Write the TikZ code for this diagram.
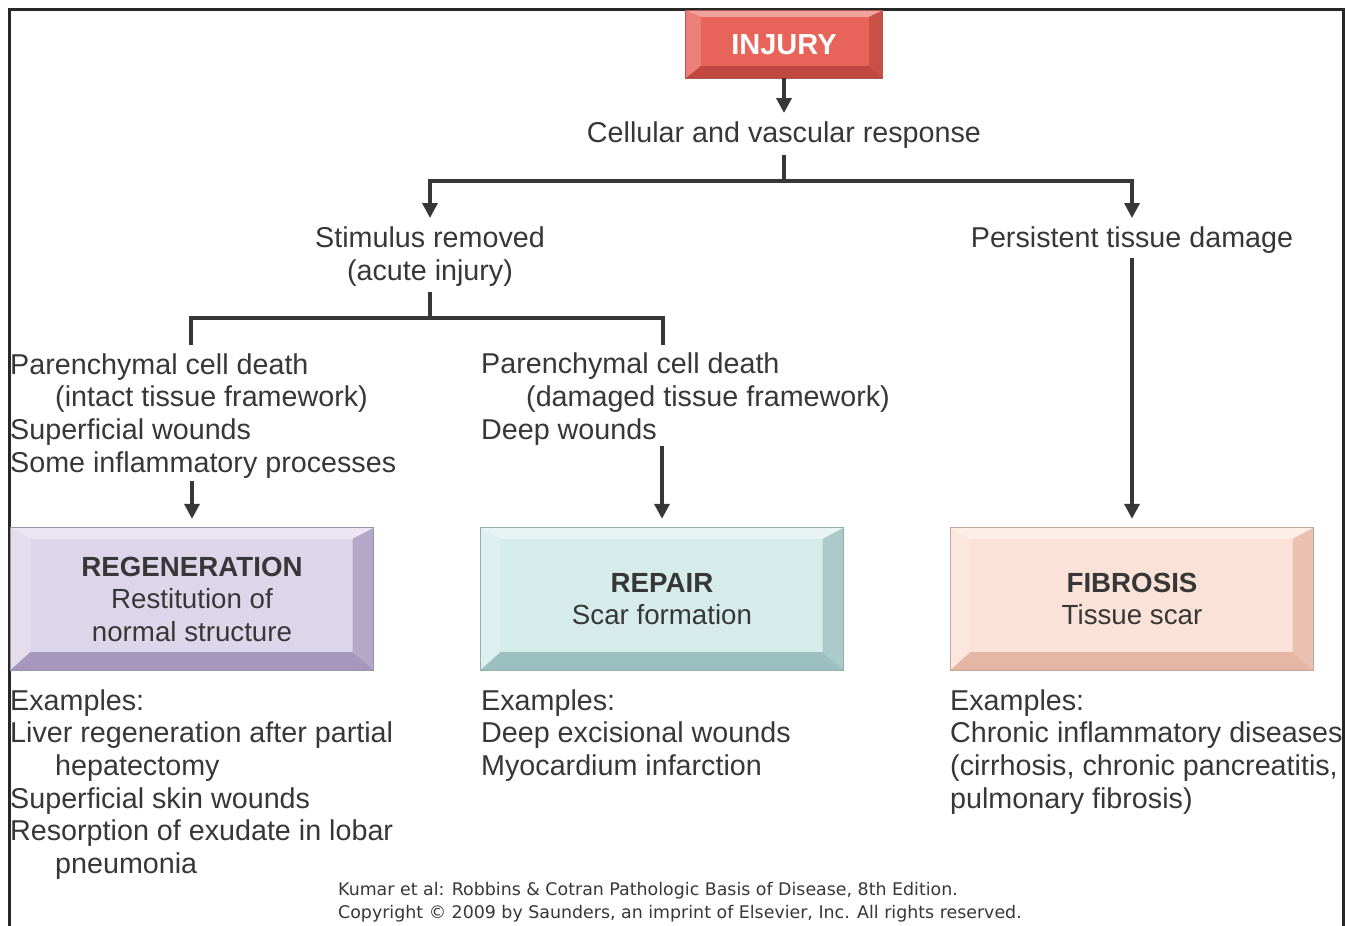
\documentclass[tikz,border=0pt]{standalone}
\usepackage{fontspec}
\setmainfont{Liberation Sans}
\newfontfamily\creditfont{DejaVu Sans}
\usetikzlibrary{arrows.meta,calc}

\definecolor{inkgray}{RGB}{55,55,55}
\definecolor{regcol}{RGB}{221,213,233}
\definecolor{regdark}{RGB}{166,152,189}
\definecolor{repcol}{RGB}{214,236,235}
\definecolor{repdark}{RGB}{155,192,191}
\definecolor{fibcol}{RGB}{251,226,216}
\definecolor{fibdark}{RGB}{230,182,165}
\definecolor{injcol}{RGB}{232,100,90}
\definecolor{injdark}{RGB}{192,72,64}

% bevel on a named box: node, colour, dark colour, left, top, right, bottom
\newcommand{\bevelbox}[7]{%
  \fill[#2!60!white] (#1.north west) -- (#1.north east) -- ($(#1.north east)+(-#6,#5)$) -- ($(#1.north west)+(#4,#5)$) -- cycle;
  \fill[#2!82!white] (#1.north west) -- ($(#1.north west)+(#4,#5)$) -- ($(#1.south west)+(#4,-#7)$) -- (#1.south west) -- cycle;
  \fill[#3!75!#2] (#1.north east) -- (#1.south east) -- ($(#1.south east)+(-#6,-#7)$) -- ($(#1.north east)+(-#6,#5)$) -- cycle;
  \fill[#3] (#1.south west) -- (#1.south east) -- ($(#1.south east)+(-#6,-#7)$) -- ($(#1.south west)+(#4,-#7)$) -- cycle;
  \draw[#3!70!gray, line width=0.8pt] (#1.north west) rectangle (#1.south east);
}

\begin{document}
\begin{tikzpicture}[x=1pt, y=-1pt,
  txt/.style={inner sep=0pt, text=inkgray, font=\fontsize{28.7}{32.7}\selectfont},
  outcome/.style={minimum width=\boxw pt, minimum height=\boxh pt, inner sep=0pt,
    fill=#1, align=center, text=inkgray, font=\fontsize{27.7}{32.5}\selectfont},
  link/.style={draw=inkgray, line width=3.5pt},
  arr/.style={link, -{Triangle[width=15pt,length=15pt]}}]
% Parameters
\def\boxw{363}
\def\boxh{142}
\def\ind{45pt}

\useasboundingbox (0,0) rectangle (1345,926);

% === Frame ===
\draw[draw=inkgray!70!black, line width=3pt] (9,926) |- (1343,9) -- (1343,926);

% === Injury ===
\node[minimum width=196pt, minimum height=67pt, inner sep=0pt, fill=injcol,
  text=white, font=\fontsize{29}{33}\selectfont\bfseries] (injury) at (784,44.5) {INJURY};
\bevelbox{injury}{injcol}{injdark}{15}{6}{13}{12}

\node[txt, anchor=north] (cell) at (784,122) {Cellular and vascular response};

% === Branches ===
\node[txt, anchor=north, align=center] (stim) at (430,227) {Stimulus removed\\(acute injury)};
\node[txt, anchor=north] (persist) at (1132,227) {Persistent tissue damage};

\node[txt, anchor=north west, align=left] (regtext) at (10,353)
  {Parenchymal cell death\\\hspace*{\ind}(intact tissue framework)\\Superficial wounds\\Some inflammatory processes};
\node[txt, anchor=north west, align=left] (reptext) at (481,353)
  {Parenchymal cell death\\\hspace*{\ind}(damaged tissue framework)\\Deep wounds};

% === Outcome boxes ===
\node[outcome=regcol] (reg) at (192,599) {\textbf{REGENERATION}\\Restitution of\\normal structure};
\node[outcome=repcol] (rep) at (662,599) {\textbf{REPAIR}\\Scar formation};
\node[outcome=fibcol] (fib) at (1132,599) {\textbf{FIBROSIS}\\Tissue scar};
\bevelbox{reg}{regcol}{regdark}{20}{11}{21}{18}
\bevelbox{rep}{repcol}{repdark}{20}{11}{21}{18}
\bevelbox{fib}{fibcol}{fibdark}{20}{11}{21}{18}

% === Examples ===
\node[txt, anchor=north west, align=left] (regex) at (10,689)
  {Examples:\\Liver regeneration after partial\\\hspace*{\ind}hepatectomy\\Superficial skin wounds\\Resorption of exudate in lobar\\\hspace*{\ind}pneumonia};
\node[txt, anchor=north west, align=left] (repex) at (481,689)
  {Examples:\\Deep excisional wounds\\Myocardium infarction};
\node[txt, anchor=north west, align=left] (fibex) at (950,689)
  {Examples:\\Chronic inflammatory diseases\\(cirrhosis, chronic pancreatitis,\\pulmonary fibrosis)};

\node[inner sep=0pt, anchor=north west, align=left, text=inkgray,
  font=\creditfont\fontsize{17.4}{23}\selectfont] (credit) at (338,882)
  {Kumar et al: Robbins \& Cotran Pathologic Basis of Disease, 8th Edition.\\Copyright © 2009 by Saunders, an imprint of Elsevier, Inc. All rights reserved.};

% === Connections ===
\coordinate (forkA) at (784,181);
\coordinate (forkB) at (430,318);
\coordinate (legL) at (191,345);
\coordinate (legR) at (663,345);

\draw[arr, shorten >=9pt] (injury) -- (cell);
\draw[link, shorten <=6pt] (cell.south) -- (forkA);
\draw[arr, shorten >=9pt] (forkA) -| (stim);
\draw[arr, shorten >=9pt] (forkA) -| (persist);
\draw[link, shorten <=5pt] (stim.south) -- (forkB);
\draw[link] (legL) -- ++(0,-27) -| (legR);
\draw[arr, shorten <=3pt, shorten >=9pt] (regtext.south -| reg.north) -- (reg.north);
\draw[arr, shorten >=9pt] (reptext.south -| rep.north) -- (rep.north);
\draw[arr, shorten <=4pt, shorten >=9pt] (persist) -- (fib);
\end{tikzpicture}
\end{document}
